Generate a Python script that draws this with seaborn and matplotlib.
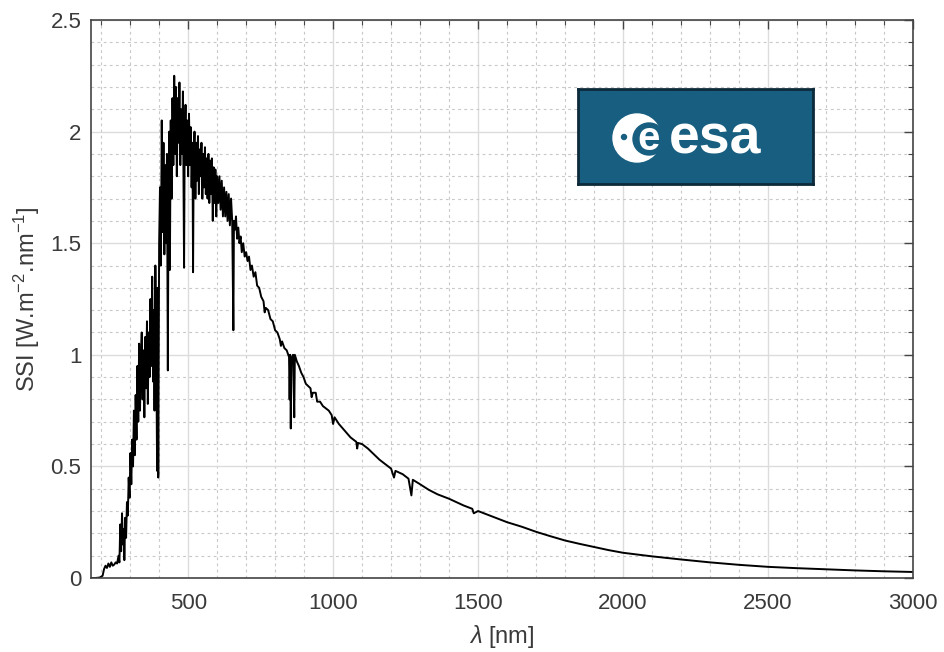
import numpy as np
import pandas as pd
import matplotlib
matplotlib.use('Agg')
import matplotlib.pyplot as plt
from matplotlib.patches import Circle
from matplotlib.ticker import MultipleLocator
import seaborn as sns

# Spectre solaire (longueur d'onde en nm, SSI en W.m-2.nm-1)
wavelength = [
    165, 180, 195, 205, 210, 215, 220, 225, 230, 235, 240, 245, 250, 255, 260, 263,
    266, 269, 272, 275, 278, 280, 283, 286, 289, 292, 295, 298, 301, 304, 307, 310,
    313, 316, 319, 322, 325, 328, 331, 334, 337, 340, 343, 346, 349, 352, 355, 358,
    361, 364, 367, 370, 373, 376, 379, 382, 384, 387, 390, 393, 395, 397, 400, 403,
    406, 409, 412, 415, 418, 421, 424, 427, 430, 432, 435, 437, 440, 443, 446, 449,
    452, 455, 458, 461, 464, 467, 470, 473, 476, 479, 482, 484, 486, 488, 491, 494,
    497, 500, 503, 506, 509, 512, 515, 517, 519, 522, 525, 528, 531, 534, 537, 540,
    543, 546, 549, 552, 555, 558, 561, 564, 567, 570, 573, 576, 579, 582, 585, 588,
    591, 594, 597, 600, 604, 608, 612, 616, 620, 624, 628, 632, 636, 640, 644, 648,
    652, 656, 658, 661, 665, 669, 673, 677, 681, 685, 690, 695, 700, 705, 710, 715,
    720, 726, 732, 738, 745, 752, 760, 764, 768, 776, 784, 792, 800, 808, 816, 820,
    824, 832, 840, 848, 850, 852, 854, 856, 862, 866, 868, 875, 882, 890, 898, 906,
    914, 922, 926, 930, 940, 945, 955, 965, 975, 985, 995, 1000, 1005, 1020, 1040, 1060,
    1080, 1083, 1086, 1100, 1120, 1140, 1160, 1180, 1200, 1210, 1215, 1240, 1260, 1270, 1275, 1300,
    1330, 1360, 1400, 1450, 1480, 1485, 1500, 1550, 1600, 1650, 1700, 1750, 1800, 1850, 1900, 1950,
    2000, 2100, 2200, 2300, 2400, 2500, 2600, 2700, 2800, 2900, 3000,
]
ssi = [
    0.0, 0.0, 0.002, 0.01, 0.04, 0.055, 0.045, 0.065, 0.05, 0.07, 0.055, 0.06, 0.07, 0.065, 0.1, 0.07,
    0.24, 0.12, 0.29, 0.15, 0.22, 0.08, 0.27, 0.18, 0.34, 0.28, 0.45, 0.36, 0.56, 0.42, 0.62, 0.5,
    0.75, 0.55, 0.82, 0.62, 0.95, 0.7, 1.05, 0.75, 0.98, 1.1, 0.8, 1.02, 0.72, 1.08, 0.85, 1.15,
    0.78, 1.1, 0.9, 1.25, 0.95, 1.35, 0.88, 1.2, 0.75, 1.4, 1.05, 0.48, 1.3, 0.45, 1.5, 1.75,
    1.4, 2.05, 1.55, 1.95, 1.45, 1.85, 1.5, 1.9, 0.93, 1.6, 2.0, 1.38, 2.05, 1.7, 2.15, 1.85,
    2.25, 1.9, 2.2, 1.8, 2.15, 1.95, 2.22, 1.85, 2.1, 1.9, 2.18, 1.8, 1.39, 1.95, 2.12, 1.85,
    2.05, 1.8, 2.08, 1.85, 2.02, 1.75, 1.95, 1.37, 1.85, 2.0, 1.7, 1.95, 1.78, 1.98, 1.72, 1.92,
    1.8, 1.95, 1.7, 1.9, 1.75, 1.93, 1.72, 1.88, 1.7, 1.9, 1.68, 1.87, 1.72, 1.88, 1.6, 1.84,
    1.68, 1.83, 1.62, 1.8, 1.68, 1.8, 1.65, 1.78, 1.62, 1.75, 1.62, 1.73, 1.6, 1.72, 1.58, 1.7,
    1.6, 1.11, 1.6, 1.56, 1.62, 1.52, 1.57, 1.5, 1.53, 1.46, 1.5, 1.44, 1.46, 1.42, 1.44, 1.38,
    1.4, 1.35, 1.37, 1.31, 1.3, 1.26, 1.24, 1.19, 1.21, 1.2, 1.16, 1.15, 1.11, 1.1, 1.07, 1.04,
    1.06, 1.03, 1.02, 0.99, 0.8, 1.0, 0.67, 0.98, 1.0, 0.72, 1.0, 0.97, 0.95, 0.92, 0.9, 0.87,
    0.86, 0.85, 0.81, 0.83, 0.83, 0.79, 0.79, 0.77, 0.76, 0.75, 0.73, 0.69, 0.72, 0.69, 0.66, 0.63,
    0.61, 0.58, 0.605, 0.6, 0.58, 0.555, 0.53, 0.51, 0.49, 0.45, 0.48, 0.465, 0.445, 0.37, 0.44, 0.42,
    0.395, 0.375, 0.355, 0.325, 0.31, 0.29, 0.3, 0.275, 0.25, 0.23, 0.207, 0.187, 0.168, 0.153, 0.139, 0.125,
    0.113, 0.097, 0.083, 0.07, 0.059, 0.05, 0.044, 0.039, 0.034, 0.03, 0.027,
]
x_ticks = [500, 1000, 1500, 2000, 2500, 3000]
y_ticks = [0, 0.5, 1, 1.5, 2, 2.5]
y_ticklabels = ['0', '0.5', '1', '1.5', '2', '2.5']

df = pd.DataFrame({'wavelength': wavelength, 'ssi': ssi})

sns.set_style('white')
plt.rcParams['font.family'] = ['Liberation Sans', 'DejaVu Sans']
plt.rcParams['mathtext.fontset'] = 'custom'
plt.rcParams['mathtext.rm'] = 'Liberation Sans'
plt.rcParams['mathtext.it'] = 'Liberation Sans:italic'

fig = plt.figure(figsize=(9.44, 6.52), dpi=100)
ax = fig.add_axes([91 / 944, 1 - 578 / 652, 822 / 944, 558 / 652])

sns.lineplot(data=df, x='wavelength', y='ssi', color='black', linewidth=1.4,
             sort=False, estimator=None, ax=ax)

ax.set_xlim(165, 3000)
ax.set_ylim(0, 2.5)
ax.set_xticks(x_ticks)
ax.set_yticks(y_ticks)
ax.set_yticklabels(y_ticklabels)
ax.xaxis.set_minor_locator(MultipleLocator(100))
ax.yaxis.set_minor_locator(MultipleLocator(0.1))

ax.grid(which='major', color='#dcdcdc', linestyle='-', linewidth=1.0)
ax.grid(which='minor', color='#c8c8c8', linestyle=(0, (2.5, 3)), linewidth=0.8)
ax.set_axisbelow(True)

txt = '#3a3a3a'
ax.tick_params(which='both', direction='in', top=True, right=True, color='#444444')
ax.tick_params(which='major', length=6.5, width=1.0, labelsize=16, labelcolor=txt)
ax.tick_params(which='minor', length=3.6, width=0.8)
ax.tick_params(axis='x', which='major', pad=11)
ax.tick_params(axis='y', which='major', pad=7)
for s in ax.spines.values():
    s.set_color('#444444')
    s.set_linewidth(1.2)

ax.set_xlabel(r'$\mathit{\lambda}$ [nm]', fontsize=17, color=txt, labelpad=6)
ax.set_ylabel(r'SSI [W.m$^{-2}$.nm$^{-1}$]', fontsize=17, color=txt, labelpad=6)

# Logo ESA
lg = fig.add_axes([578 / 944, 1 - 184 / 652, 235 / 944, 95 / 652])
lg.set_xlim(0, 235)
lg.set_ylim(0, 95)
teal = '#175e80'
lg.set_facecolor(teal)
lg.set_xticks([])
lg.set_yticks([])
for s in lg.spines.values():
    s.set_color('#0d2a3a')
    s.set_linewidth(2)
lg.add_patch(Circle((59, 46), 24, color='white'))
lg.add_patch(Circle((71, 45), 16, color=teal))
lg.add_patch(Circle((46, 47), 2.5, color=teal))
lg.text(71, 45, 'e', color='white', fontsize=29, fontweight='bold',
        ha='center', va='center')
lg.text(91, 44, 'esa', color='white', fontsize=40, fontweight='bold',
        ha='left', va='center')

fig.savefig('out.png', dpi=100)
